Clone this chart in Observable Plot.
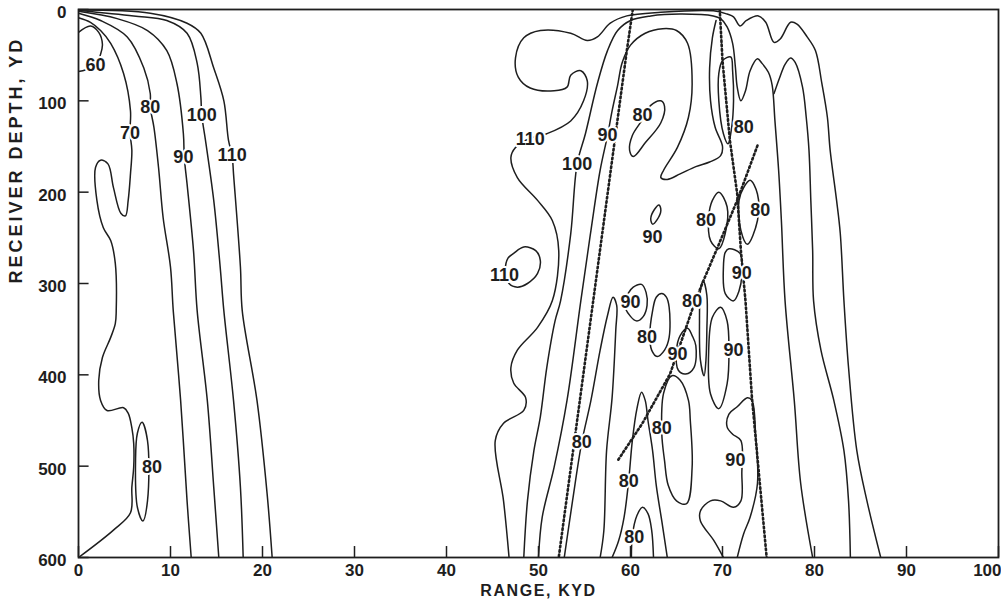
<!DOCTYPE html>
<html>
<head>
<meta charset="utf-8">
<script src="https://cdn.jsdelivr.net/npm/d3@7"></script>
<script src="https://cdn.jsdelivr.net/npm/@observablehq/plot@0.6"></script>
<style>
  html, body { margin: 0; padding: 0; background: #ffffff; }
  #chart { width: 1001px; height: 610px; }
</style>
</head>
<body>
<div id="chart"></div>
<script>
// ---------- axes ----------
const xTicks = [0, 10, 20, 30, 40, 50, 60, 70, 80, 90, 100];
const yTicks = [0, 100, 200, 300, 400, 500, 600];
const xTitle = "RANGE, KYD";
const yTitle = "RECEIVER DEPTH, YD";

// ---------- contour lines (range kyd, depth yd) ----------
// near-field (0-22 kyd)
const c60 = [[0,25],[1.3,18],[2.2,25],[2.6,38],[2.4,49],[1.9,60],[0.8,66],[0,68]];
const c70 = [[0,9],[1.3,14],[2.4,23],[3.5,37],[4.9,70],[5.65,111],[5.6,135],[5.8,154],[5.65,180],[5.4,209],[5.1,226],[4.6,223],[3.8,195],[3.2,169],[2.4,165],[1.85,173],[2.0,209],[2.7,239],[3.5,253],[4.0,278],[4.1,330],[4.0,344],[3.5,359],[2.6,381],[2.2,406],[2.4,428],[3.1,439],[4.9,436],[5.4,442],[5.8,458],[6.0,475],[6.0,501],[5.8,523],[5.65,551],[3.8,570],[0,600]];
const c80 = [[0,4],[2.4,12],[5.3,30],[7.1,64],[7.8,92],[7.8,107],[8.2,129],[8.7,173],[9.2,228],[10.0,282],[10.3,330],[11.1,428],[11.8,538],[12.25,600]];
const c90 = [[0,2],[4.2,10],[7.5,23],[9.6,45],[10.7,81],[11.4,136],[11.5,162],[11.8,191],[12.5,264],[12.9,330],[14.0,428],[14.7,523],[15.25,600]];
const c100 = [[0,1],[6.0,7],[9.6,12],[11.8,26],[12.9,59],[13.3,96],[13.4,116],[13.8,143],[14.7,209],[15.4,282],[15.8,330],[16.85,428],[17.6,523],[17.9,600]];
const c110 = [[0,0.5],[7.8,4],[11.8,15],[13.3,26],[14.7,64],[15.8,100],[16.3,143],[16.7,160],[16.85,180],[17.6,282],[17.8,330],[19.4,428],[20.5,530],[21.05,600]];
const loop80Left = [[6.9,452],[7.5,472],[7.5,538],[7.0,560],[6.4,545],[6.2,494],[6.4,464]];

// convergence zone (45-88 kyd)
const cz110 = [[46.8,600],[46.2,538],[45.3,472],[46.2,453],[48.4,439],[48.6,425],[47.3,409],[47.0,392],[47.7,373],[49.9,348],[51.5,319],[52.2,264],[51.5,231],[49.9,209],[47.7,184],[47.0,162],[47.5,151],[49.1,141],[50.9,136],[53.5,122],[54.9,100],[55.3,78],[54.6,67],[53.5,72],[53.1,85],[51.7,89],[49.1,86],[47.8,74],[47.5,53],[48.4,31],[50.2,23],[53.5,26],[55.3,34],[56.4,30],[57.8,15],[59.6,7],[63.3,3],[69.0,1.5],[70.5,5],[71.2,8],[71.9,18],[72.6,12],[73.9,7],[74.7,14],[75.6,36],[76.3,32],[77.4,14],[78.1,16],[79.2,30],[80.1,45],[80.8,81],[81.4,118],[81.7,154],[82.4,209],[82.8,245],[83.2,319],[83.7,392],[84.6,483],[85.7,538],[87.2,600]];
const cz100 = [[48.4,600],[48.8,538],[49.5,483],[50.2,446],[50.9,392],[51.8,341],[52.4,319],[53.5,246],[54.2,169],[55.1,136],[56.4,81],[57.5,45],[58.6,23],[60.0,12],[62.2,7],[65.4,5],[69.0,7],[69.8,10],[70.5,19],[71.1,37],[71.4,63],[71.6,85],[72.0,100],[72.5,89],[73.0,67],[73.8,54],[74.3,59],[75.0,69],[75.4,83],[75.7,122],[76.1,176],[76.4,231],[76.8,319],[77.8,428],[78.5,519],[79.8,600]];
const czRight = [[75.6,92],[76.2,75],[76.8,60],[77.4,53],[77.9,58],[78.7,85],[79.1,118],[79.4,154],[79.6,209],[79.8,264],[79.9,319],[80.7,373],[82.1,428],[83.2,483],[83.7,538],[83.9,600]];
const cz90 = [[50.0,600],[50.4,556],[51.7,501],[53.1,428],[54.6,319],[55.7,242],[56.7,176],[57.5,138],[58.0,111],[58.6,83],[59.1,58],[60.0,39],[61.6,26],[63.5,21],[65.0,23],[66.2,37],[66.7,81],[66.3,118],[65.1,151],[63.6,176],[63.3,184],[64.0,186],[65.4,180],[67.1,172],[68.6,167],[69.8,160],[70.0,150],[69.2,129],[68.7,100],[68.6,64],[68.9,31],[69.3,12]];
const cz80 = [[52.8,600],[53.7,538],[54.7,474],[55.7,428],[56.7,373],[57.5,335],[58.1,315],[58.5,324],[58.4,351],[58.0,425],[57.4,483],[57.1,571],[56.7,600]];
const cz80u = [[58.0,600],[58.7,582],[59.3,556],[59.8,516],[60.2,472],[60.7,437],[61.2,419],[61.6,428],[61.9,450],[62.4,483],[62.8,521],[63.4,560],[64.0,600]];
const cz80arch = [[60.1,600],[60.2,576],[60.7,554],[61.3,545],[61.9,552],[62.3,570],[62.5,600]];
const cz90big = [[70.1,600],[69.1,582],[67.6,560],[67.6,549],[68.7,538],[69.8,538],[71.2,545],[72.0,538],[72.1,508],[72.0,472],[71.1,465],[70.5,457],[70.7,443],[71.6,435],[72.7,425],[73.2,428],[73.6,465],[73.8,519],[73.0,556],[72.3,574],[71.6,600]];

// closed contours
const loop110 = [[47.3,267],[48.4,260],[49.7,264],[50.2,275],[49.9,289],[48.8,300],[47.7,304],[46.8,300],[46.4,286],[46.7,272]];
const loopA = [[63.3,100],[63.7,106],[63.3,124],[61.6,146],[60.3,161],[59.9,154],[60.2,138],[61.2,122],[62.2,105]];
const loopB = [[63.1,214],[63.3,220],[62.9,230],[62.4,235],[62.2,229],[62.6,219]];
const loopC = [[69.6,200],[70.5,216],[70.3,245],[69.6,262],[68.7,253],[68.5,227],[68.9,209]];
const loopD = [[73.0,187],[73.8,202],[73.8,231],[72.7,257],[72.0,242],[71.8,209],[72.3,195]];
const loopE = [[70.9,52],[71.1,67],[71.2,100],[71.0,129],[70.6,147],[70.1,136],[69.6,100],[69.6,70],[70.0,56]];
const loop90a = [[60.3,304],[61.2,301],[61.7,310],[61.8,324],[61.4,336],[60.7,341],[60.0,336],[59.3,321],[59.8,310]];
const loop80b = [[63.4,311],[63.9,315],[64.2,326],[64.2,359],[63.7,373],[62.9,380],[62.3,373],[62.1,357],[62.4,330],[62.8,315]];
const loop90b = [[66.2,349],[66.7,357],[67.1,368],[66.9,392],[66.0,399],[65.2,395],[65.0,373],[65.4,357]];
const loop80c = [[67.9,297],[68.3,313],[68.3,351],[68.2,384],[68.0,401],[67.6,384],[67.5,341],[67.6,308]];
const loop90c = [[69.8,326],[70.5,341],[70.7,373],[70.5,410],[69.6,437],[68.7,421],[68.5,373],[68.9,337]];
const loop90d = [[70.7,262],[71.9,267],[72.1,291],[71.8,308],[71.2,319],[70.3,311],[70.1,282],[70.3,266]];
const loop80big = [[64.5,401],[65.4,406],[66.3,428],[66.5,450],[66.7,501],[66.1,541],[65.0,538],[64.1,521],[63.7,494],[63.4,464],[63.6,420]];

// dotted ray paths
const ray1 = [[60.25,0],[59.6,45],[52.2,600]];
const ray2 = [[69.7,0],[70.0,56],[70.8,143],[71.6,202],[72.0,264],[72.5,319],[73.2,425],[74.8,600]];
const ray3 = [[73.8,149],[71.6,209],[69.4,262],[67.8,300],[66.8,326],[64.3,399],[61.3,453],[58.6,494]];

// contour value labels
const labelX = [1.85,5.6,7.8,11.4,13.4,16.7,8.0, 49.1,46.3,54.2,57.5,61.3,62.4,68.2,74.1,72.3,72.1,60.0,66.7,61.8,65.1,71.2,54.7,63.4,59.8,71.4,60.4];
const labelY = [61,135,107,162,116,160,501, 142,291,169,138,116,249,231,220,129,289,320,319,359,377,373,474,459,516,494,578];
const labelText = ["60","70","80","90","100","110","80", "110","110","100","90","80","90","80","80","80","90","90","80","80","90","90","80","80","80","90","80"];

// ---------- build tables ----------
const openLines = [c60,c70,c80,c90,c100,c110,cz110,cz100,czRight,cz90,cz80,cz80u,cz80arch,cz90big];
const closedLines = [loop80Left,loop110,loopA,loopB,loopC,loopD,loopE,loop90a,loop80b,loop90b,loop80c,loop90c,loop90d,loop80big];
const rays = [ray1, ray2, ray3];
const toRows = (arr) => arr.flatMap((pts, i) => pts.map(([x, y]) => ({id: i, x, y})));
const openRows = toRows(openLines);
const closedRows = toRows(closedLines);
const rayRows = toRows(rays);
const labels = labelText.map((t, i) => ({x: labelX[i], y: labelY[i], t}));

const ink = "#1e1e1e";
const font = "'Liberation Sans', Arial, Helvetica, sans-serif";

const chart = Plot.plot({
  width: 1001,
  height: 610,
  marginLeft: 78,
  marginRight: 3,
  marginTop: 9,
  marginBottom: 53,
  style: {fontFamily: font, background: "#ffffff", color: ink},
  x: {domain: [0, 100], axis: null},
  y: {domain: [0, 600], reverse: true, axis: null},
  marks: [
    Plot.line(openRows, {x: "x", y: "y", z: "id", curve: "catmull-rom", stroke: ink, strokeWidth: 1.5, clip: true}),
    Plot.line(closedRows, {x: "x", y: "y", z: "id", curve: "catmull-rom-closed", stroke: ink, strokeWidth: 1.5, clip: true}),
    Plot.line(rayRows, {x: "x", y: "y", z: "id", curve: "linear", stroke: ink, strokeWidth: 2.6, strokeDasharray: "1.6,2.8", clip: true}),
    Plot.text(labels, {x: "x", y: "y", text: "t", fontSize: 18, fontWeight: "bold", fill: ink, stroke: "white", strokeWidth: 4, paintOrder: "stroke"}),
    Plot.frame({stroke: ink, strokeWidth: 1.8}),
    Plot.ruleY(yTicks, {y: d => d, x1: 0, x2: 1.15, stroke: ink, strokeWidth: 1.5}),
    Plot.ruleX(xTicks, {x: d => d, y1: 600, y2: 588, stroke: ink, strokeWidth: 1.5}),
    Plot.text(yTicks, {x: 0, y: d => d, text: d => String(d), textAnchor: "end", dx: -12, dy: 3, fontSize: 17, fontWeight: "bold", fill: ink}),
    Plot.text(xTicks.filter(d => d < 100), {x: d => d, y: 600, text: d => String(d), dy: 13, fontSize: 17, fontWeight: "bold", fill: ink}),
    Plot.text(xTicks.filter(d => d === 100), {x: d => d, y: 600, text: d => String(d), dy: 13, dx: 3, textAnchor: "end", fontSize: 17, fontWeight: "bold", fill: ink}),
    Plot.text([xTitle], {frameAnchor: "bottom", text: d => d, dy: 38, fontSize: 16, fontWeight: "bold", fill: ink}),
    Plot.text([yTitle], {frameAnchor: "left", text: d => d, rotate: -90, dx: -62, fontSize: 18, fontWeight: "bold", fill: ink})
  ]
});

d3.select(chart).selectAll("text").each(function() {
  const s = this.textContent;
  if (s === xTitle) this.style.letterSpacing = "1.6px";
  if (s === yTitle) this.style.letterSpacing = "3px";
});

document.getElementById("chart").appendChild(chart);
</script>
</body>
</html>
